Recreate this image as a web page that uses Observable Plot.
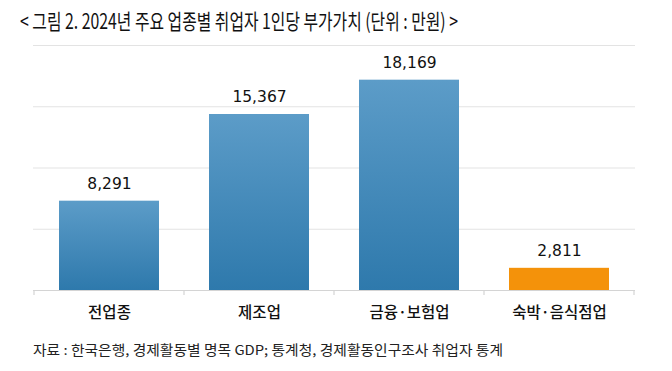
<!DOCTYPE html>
<html>
<head>
<meta charset="utf-8">
<script src="https://cdn.jsdelivr.net/npm/d3@7"></script>
<script src="https://cdn.jsdelivr.net/npm/@observablehq/plot@0.6"></script>
<style>
  html, body { margin: 0; padding: 0; background: #fff; }
  #wrap { position: relative; width: 672px; height: 371px; overflow: hidden; }
  #title { position: absolute; left: 20px; top: 6px; font-family: "Noto Sans CJK KR", sans-serif; font-size: 21px; line-height: 28px; color: #111; white-space: nowrap; transform-origin: left top; }
  #chart { position: absolute; left: 0; top: 40px; line-height: 0; }
  #caption { position: absolute; left: 33px; top: 339px; font-family: "Noto Sans CJK KR", sans-serif; font-size: 13.5px; color: #222; white-space: nowrap; transform-origin: left top; }
</style>
</head>
<body>
<div id="wrap">
  <div id="title">&lt; 그림 2. 2024년 주요 업종별 취업자 1인당 부가가치 (단위 : 만원) &gt;</div>
  <div id="chart"></div>
  <div id="caption">자료 : 한국은행, 경제활동별 명목 GDP; 통계청, 경제활동인구조사 취업자 통계</div>
</div>
<script>
const categories = ["전업종", "제조업", "금융·보험업", "숙박·음식점업"];
const values = [8291, 15367, 18169, 2811];
const highlight = [false, false, false, true];
const gridTicks = [1000, 6000, 11000, 16000, 21000];

const data = categories.map((c, i) => ({ category: c, value: values[i], hi: highlight[i] }));

const defs = () => {
  const d = d3.create("svg:defs");
  const g = d.append("linearGradient").attr("id", "blueGrad").attr("x1", 0).attr("y1", 0).attr("x2", 0).attr("y2", 1);
  g.append("stop").attr("offset", "0%").attr("stop-color", "#5c9cc8");
  g.append("stop").attr("offset", "100%").attr("stop-color", "#2e79ac");
  return d.node();
};

const boundaryTicks = (index, scales) => {
  const x = scales.x, y = scales.y;
  const step = x.step ? x.step() : x.bandwidth();
  const bw = x.bandwidth();
  const edges = [];
  categories.forEach((c, i) => {
    const center = x(c) + bw / 2;
    if (i === 0) edges.push(center - step / 2);
    edges.push(center + step / 2);
  });
  const y0 = y(gridTicks[0]);
  const g = d3.create("svg:g").attr("stroke", "#d4d4d4").attr("stroke-width", 1.2);
  edges.forEach(e => g.append("line").attr("x1", e).attr("x2", e).attr("y1", y0).attr("y2", y0 + 5));
  return g.node();
};

const chart = Plot.plot({
  width: 672,
  height: 290,
  marginTop: 5,
  marginBottom: 40,
  marginLeft: 33,
  marginRight: 37,
  x: { domain: categories, paddingInner: 0.335, paddingOuter: 0.1675, label: null },
  y: { domain: [1000, 21000], axis: null, label: null },
  style: { background: "#fff", overflow: "visible" },
  marks: [
    defs,
    Plot.ruleY(gridTicks.slice(1), { stroke: "#e3e3e3", strokeWidth: 1.2 }),
    Plot.barY(data, { x: "category", y1: gridTicks[0], y2: "value", fill: d => d.hi ? "#f4920a" : "url(#blueGrad)" }),
    Plot.ruleY(gridTicks.slice(0, 1), { stroke: "#d4d4d4", strokeWidth: 1.2 }),
    boundaryTicks,
    Plot.axisX({ tickSize: 0, tickPadding: 16, fontSize: 15.5, fontWeight: 500, fontFamily: "Noto Sans CJK KR", fill: "#111" }),
    Plot.text(data, { x: "category", y: "value", text: d => d3.format(",")(d.value), dy: -17, fontSize: 15.5, fontFamily: "DejaVu Sans", fill: "#111" })
  ]
});
document.getElementById("chart").appendChild(chart);
</script>
<script>
const fit = (id, w) => { const el = document.getElementById(id); const cw = el.getBoundingClientRect().width; el.style.transform = `scaleX(${w / cw})`; };
fit("title", 438);
fit("caption", 470);
</script>
</body>
</html>
